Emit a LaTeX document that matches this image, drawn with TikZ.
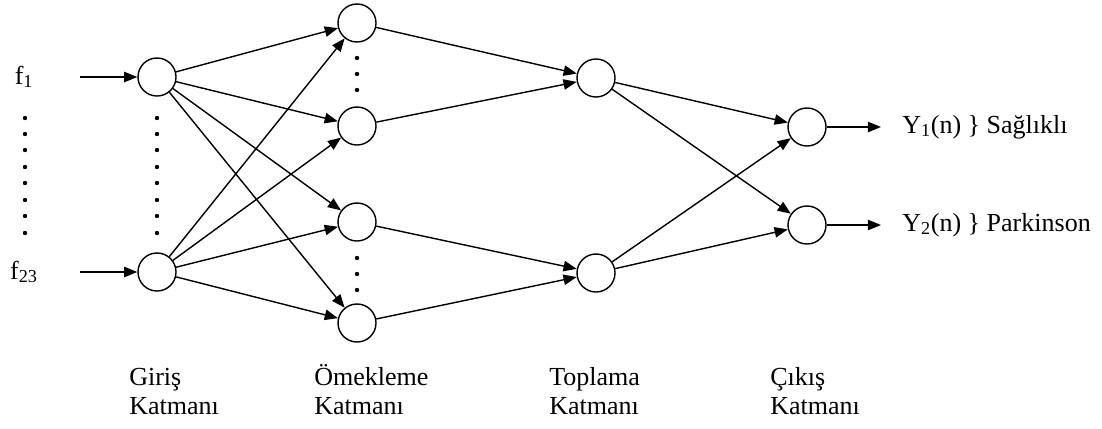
\documentclass[tikz,border=0pt]{standalone}
\usepackage{fontspec}
\setmainfont{Liberation Serif}
\usetikzlibrary{arrows.meta}

\begin{document}
\begin{tikzpicture}[x=0.025cm,y=-0.025cm]
\tikzstyle{every node}=[font=\fontsize{18.5}{20.6}\selectfont]
\tikzstyle{neuron}=[draw,circle,line width=1pt,minimum size=0.95cm,inner sep=0pt]
\tikzstyle{link}=[line width=1pt,-{Triangle[length=0.33cm,width=0.26cm]}]
\tikzstyle{dot}=[fill=black,circle,inner sep=0pt,minimum size=0.11cm]
\tikzstyle{layer}=[align=left,anchor=base west,inner sep=0pt]

\useasboundingbox (0,0) rectangle (1102,428);

% Draw the input layer
\node[neuron] (g1) at (157,77) {};
\node[neuron] (g2) at (157,272) {};
\node (f1) at (24,77) {f\textsubscript{1}};
\node (f2) at (24,272) {f\textsubscript{23}};
\coordinate (i1) at (80,77);
\coordinate (i2) at (80,272);

% Draw the pattern layer
\node[neuron] (o1) at (357,23) {};
\node[neuron] (o2) at (357,126) {};
\node[neuron] (o3) at (357,222) {};
\node[neuron] (o4) at (357,323) {};

% Draw the summation layer
\node[neuron] (t1) at (596,78) {};
\node[neuron] (t2) at (596,273) {};

% Draw the output layer
\node[neuron] (c1) at (807,127) {};
\node[neuron] (c2) at (807,225) {};
\coordinate (e1) at (881,127);
\coordinate (e2) at (881,225);
\node[anchor=west,inner sep=0pt] (y1) at (902,127) {Y\textsubscript{1}(n) \} Sağlıklı};
\node[anchor=west,inner sep=0pt] (y2) at (902,225) {Y\textsubscript{2}(n) \} Parkinson};

% Draw the dots
\foreach \y in {118,134,150,167,183,200,216,233} {
  \node[dot] at (25,\y) {};
  \node[dot] at (157,\y) {};
}
\foreach \y in {58,74,90,258,274,290} {
  \node[dot] at (357,\y) {};
}

% Draw the connections
\draw[link] (i1) -- (g1);
\draw[link] (i2) -- (g2);
\foreach \a in {g1,g2} {
  \foreach \b in {o1,o2,o3,o4} {
    \draw[link] (\a) -- (\b);
  }
}
\draw[link] (o1) -- (t1);
\draw[link] (o2) -- (t1);
\draw[link] (o3) -- (t2);
\draw[link] (o4) -- (t2);
\foreach \a in {t1,t2} {
  \draw[link] (\a) -- (c1);
  \draw[link] (\a) -- (c2);
}
\draw[link] (c1) -- (e1);
\draw[link] (c2) -- (e2);

% Draw the layer names
\node[layer] (lg) at (129,414) {Giriş\\Katmanı};
\node[layer] (lo) at (314,414) {Ömekleme\\Katmanı};
\node[layer] (lt) at (549,414) {Toplama\\Katmanı};
\node[layer] (lc) at (770,414) {Çıkış\\Katmanı};

\end{tikzpicture}
\end{document}
